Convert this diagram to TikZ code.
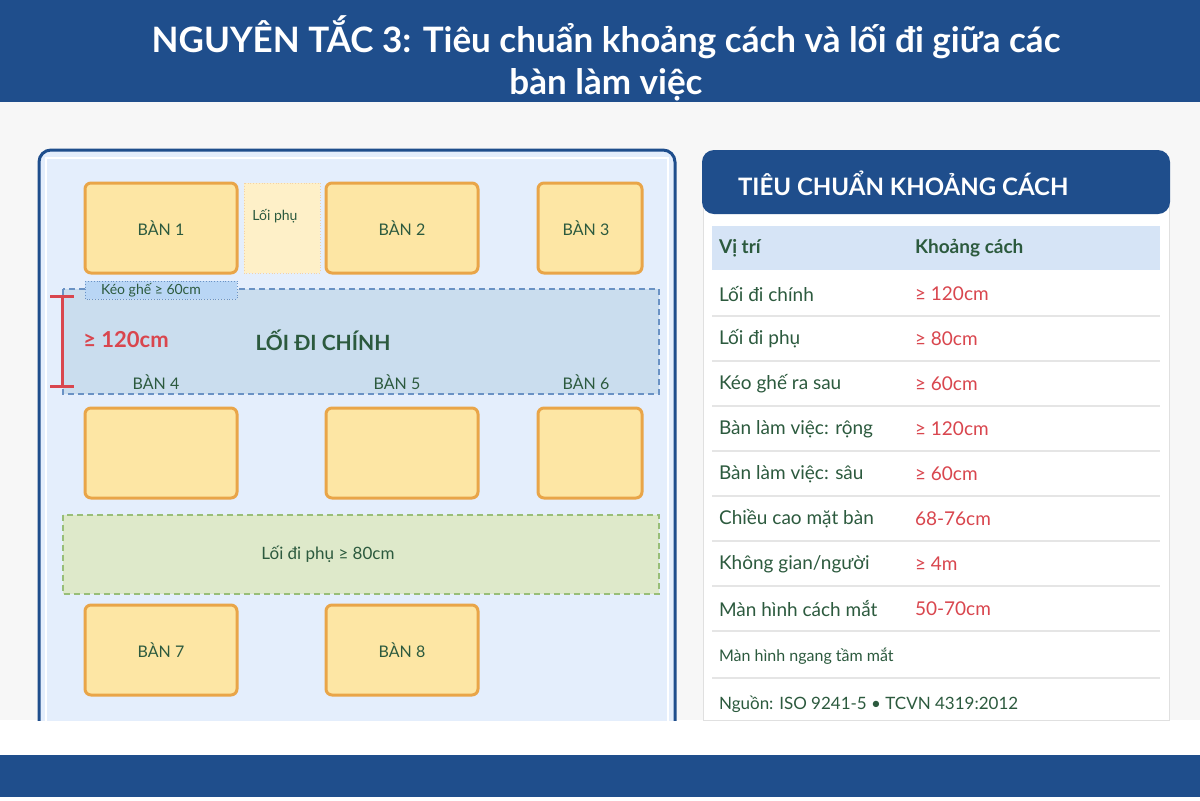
\documentclass[tikz,border=0pt]{standalone}
\usepackage{fontspec}
\setmainfont{Lato}
\usetikzlibrary{positioning}

\definecolor{navy}{HTML}{1F4E8C}
\definecolor{deskfill}{HTML}{FDE6A4}
\definecolor{deskline}{HTML}{E9A548}
\definecolor{textgreen}{HTML}{2C5A3E}
\definecolor{redtext}{HTML}{D9464E}
\definecolor{panelfill}{HTML}{E4EEFC}
\definecolor{aislefill}{HTML}{CADDEE}
\definecolor{aisleline}{HTML}{6A92C4}
\definecolor{greenfill}{HTML}{DEE9CA}
\definecolor{greenline}{HTML}{98BE78}
\definecolor{headfill}{HTML}{D6E4F6}
\definecolor{chairfill}{HTML}{B9D6F5}

\tikzset{
    desk/.style={draw=deskline, line width=1.5pt, fill=deskfill, rounded corners=3pt},
    desklabel/.style={font=\fontsize{8}{10}\selectfont, text=textgreen},
    rowtext/.style={font=\fontsize{9.5}{11}\selectfont, text=textgreen, anchor=west},
    rowvalue/.style={font=\fontsize{9.5}{11}\selectfont, text=redtext, anchor=west}
}

\begin{document}
\begin{tikzpicture}[x=0.5pt, y=-0.5pt]
        \useasboundingbox (0, 0) rectangle (1200, 800);
        \fill [white] (0, 0) rectangle (1200, 800);
        \fill [black!3] (0, 102) rectangle (1200, 720);
        \fill [navy] (0, 0) rectangle (1200, 102);
        \fill [navy] (0, 755) rectangle (1200, 797);

        \node [font=\fontsize{17.5}{21}\selectfont\bfseries, text=white, align=center] (title) at (606, 58) {NGUYÊN TẮC 3: Tiêu chuẩn khoảng cách và lối đi giữa các\\bàn làm việc};

        % left plan
        \begin{scope}
        \clip (0, 102) rectangle (700, 720);
        \draw [navy, line width=1.5pt, fill=panelfill, rounded corners=6pt] (39, 150) rectangle (675, 760);
        \draw [white, line width=1pt] (46, 158) rectangle (668, 760);
        \end{scope}

        \node [desk, minimum width=76pt, minimum height=45pt] (B1) at (161, 228) {};
        \draw [deskline!50, densely dotted, fill=deskfill!60] (244, 183) rectangle (320, 273);
        \node [desklabel, font=\fontsize{7}{9}\selectfont] (phu) at (275, 216) {Lối phụ};
        \node [desk, minimum width=76pt, minimum height=45pt] (B2) at (402, 228) {};
        \node [desk, minimum width=52pt, minimum height=45pt] (B3) at (590, 228) {};
        \node [desklabel] at (B1) {BÀN 1};
        \node [desklabel] at (B2) {BÀN 2};
        \node [desklabel] at (586, 228) {BÀN 3};

        \draw [aisleline, densely dashed, line width=1pt, fill=aislefill] (63, 289) rectangle (659, 394);
        \draw [aisleline, densely dotted, fill=chairfill] (85, 281) rectangle (237, 299);
        \node [font=\fontsize{7}{8}\selectfont, text=textgreen] (keo) at (151, 290) {Kéo ghế ≥ 60cm};

        \draw [redtext, line width=1.5pt] (50, 296) -- (74, 296);
        \draw [redtext, line width=1.5pt] (50, 386) -- (74, 386);
        \draw [redtext, line width=1.5pt] (62, 296) -- (62, 386);
        \node [font=\fontsize{11}{13}\selectfont\bfseries, text=redtext] (dim) at (126, 340) {≥ 120cm};
        \node [font=\fontsize{10.5}{12}\selectfont\bfseries, text=textgreen] (main) at (323, 340) {LỐI ĐI CHÍNH};
        \node [desklabel] at (156, 382) {BÀN 4};
        \node [desklabel] at (397, 382) {BÀN 5};
        \node [desklabel] at (586, 382) {BÀN 6};

        \node [desk, minimum width=76pt, minimum height=45pt] (B4) at (161, 453) {};
        \node [desk, minimum width=76pt, minimum height=45pt] (B5) at (402, 453) {};
        \node [desk, minimum width=52pt, minimum height=45pt] (B6) at (590, 453) {};

        \draw [greenline, densely dashed, line width=1pt, fill=greenfill] (63, 515) rectangle (659, 594);
        \node [desklabel, font=\fontsize{8.5}{10}\selectfont] (aux) at (328, 554) {Lối đi phụ ≥ 80cm};

        \node [desk, minimum width=76pt, minimum height=45pt] (B7) at (161, 650) {};
        \node [desk, minimum width=76pt, minimum height=45pt] (B8) at (402, 650) {};
        \node [desklabel] at (B7) {BÀN 7};
        \node [desklabel] at (B8) {BÀN 8};

        % right table
        \draw [black!12, fill=white] (703, 200) rectangle (1169, 720);
        \fill [navy, rounded corners=6pt] (702, 150) rectangle (1170, 214);
        \node [font=\fontsize{12}{14}\selectfont\bfseries, text=white, anchor=west] (head) at (731, 183) {TIÊU CHUẨN KHOẢNG CÁCH};
        \fill [headfill] (712, 226) rectangle (1160, 270);
        \node [rowtext, font=\fontsize{9.5}{11}\selectfont\bfseries] (c1) at (712, 248) {Vị trí};
        \node [rowtext, font=\fontsize{9.5}{11}\selectfont\bfseries] (c2) at (908, 248) {Khoảng cách};

        \foreach \name/\val [count=\i] in {Lối đi chính/≥ 120cm, Lối đi phụ/≥ 80cm, Kéo ghế ra sau/≥ 60cm,
            Bàn làm việc: rộng/≥ 120cm, Bàn làm việc: sâu/≥ 60cm, Chiều cao mặt bàn/68-76cm,
            {Không gian/người}/≥ 4m, Màn hình cách mắt/50-70cm} {
            \draw [black!10, line width=1pt] (712, 271 + 45*\i) -- (1160, 271 + 45*\i);
            \node [rowtext] at (712, 249 + 45*\i) {\name};
            \node [rowvalue] at (908, 249 + 45*\i) {\val};
        }
        \node [rowtext, font=\fontsize{8}{9}\selectfont] (note) at (712, 656) {Màn hình ngang tầm mắt};
        \draw [black!10, line width=1pt] (712, 678) -- (1160, 678);
        \node [rowtext, font=\fontsize{8.5}{10}\selectfont] (src) at (712, 704) {Nguồn: ISO 9241-5 • TCVN 4319:2012};
    \end{tikzpicture}
\end{document}
